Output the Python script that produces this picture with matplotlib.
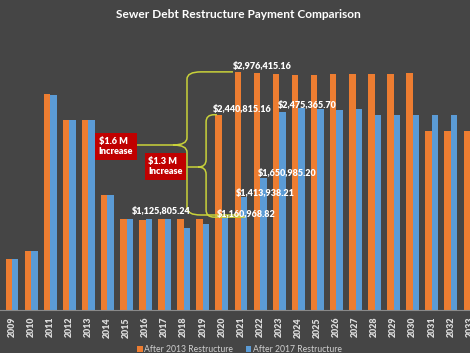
import numpy as np
import matplotlib.pyplot as plt
from matplotlib.path import Path
from matplotlib.patches import PathPatch

plt.rcParams["font.family"] = ["Lato", "DejaVu Sans"]

years = [str(y) for y in range(2009, 2034)]
after_2013 = [637500, 737500, 2700000, 2375000, 2375000, 1440000, 1135000, 1125805.24,
              1135000, 1135000, 1135000, 2440815.16, 2976415.16, 2958000, 2950000, 2940000,
              2940000, 2950000, 2950000, 2950000, 2950000, 2960000, 2240000, 2240000, 2240000]
after_2017 = [637500, 737500, 2690000, 2375000, 2375000, 1440000, 1135000, 1135000,
              1135000, 1025000, 1075000, 1160968.82, 1413938.21, 1650985.20, 2475365.70, 2525000,
              2510000, 2500000, 2510000, 2440000, 2440000, 2440000, 2440000, 2440000, 2440000]
series_names = ["After 2013 Restructure", "After 2017 Restructure"]
callouts = ["$1.6 M\nIncrease", "$1.3 M\nIncrease"]

orange = "#ed7d31"
blue = "#5b9bd5"
yellow = "#c9d23a"
bg = "#454545"

fig = plt.figure(figsize=(4.7, 3.53), dpi=100)
fig.patch.set_facecolor(bg)
ax = fig.add_axes([0, 43 / 353, 1, 250 / 353])
ax.set_facecolor("none")

x = np.arange(len(years))
w = 0.34
b1 = ax.bar(x - w / 2, after_2013, w, color=orange, label=series_names[0], zorder=2)
b2 = ax.bar(x + w / 2, after_2017, w, color=blue, label=series_names[1], zorder=2)

ax.set_xlim(-0.629, 24.0)
ax.set_ylim(0, 3.125e6)
ax.set_yticks([])
ax.set_xticks(x, years, rotation=90, fontsize=6.4, fontweight="heavy", color="#dcdcdc")
ax.tick_params(axis="x", length=0, pad=5)
for s in ["top", "left", "right"]:
    ax.spines[s].set_visible(False)
ax.spines["bottom"].set_color("#8a8a8a")
ax.spines["bottom"].set_linewidth(0.8)

# data labels: (series, year index, dx, dy) in pixels from the bar's top-left
labels = [(0, 12, -2, 5), (0, 11, -3, 5), (1, 14, -1, 6), (1, 13, -2, 4),
          (1, 12, -5, 3), (1, 11, -5, 3), (0, 7, -7, 8)]
for s, i, dx, dy in labels:
    vals = after_2013 if s == 0 else after_2017
    left = i - w if s == 0 else i
    ax.annotate(f"${vals[i]:,.2f}", xy=(left, vals[i]), xytext=(dx, dy),
                textcoords="offset pixels", ha="left", va="center",
                fontsize=6.5, fontweight="heavy", color="white", zorder=6)


def brace(x_tip, x_fork, x_spine, y_mid, y_top, y_bot, x_top_end, x_bot_end):
    rx = x_spine - x_fork
    ry = 0.09e6
    verts = [(x_tip, y_mid), (x_fork, y_mid), (x_spine, y_mid), (x_spine, y_mid + ry),
             (x_spine, y_top - ry), (x_spine, y_top), (x_spine + rx, y_top), (x_top_end, y_top),
             (x_fork, y_mid), (x_spine, y_mid), (x_spine, y_mid - ry),
             (x_spine, y_bot + ry), (x_spine, y_bot), (x_spine + rx, y_bot), (x_bot_end, y_bot)]
    codes = [Path.MOVETO, Path.LINETO, Path.CURVE3, Path.CURVE3,
             Path.LINETO, Path.CURVE3, Path.CURVE3, Path.LINETO,
             Path.MOVETO, Path.CURVE3, Path.CURVE3,
             Path.LINETO, Path.CURVE3, Path.CURVE3, Path.LINETO]
    ax.add_patch(PathPatch(Path(verts, codes), fill=False, edgecolor=yellow,
                           linewidth=1.1, zorder=4))


brace(6.55, 8.44, 9.17, 2.0625e6, after_2013[12], 1.1875e6, 11.58, 11.95)
brace(9.17, 9.75, 10.17, 1.7875e6, after_2013[11], after_2017[11], 10.74, 12.2)

box = dict(boxstyle="square,pad=0.4", facecolor="#c00000", edgecolor="none")
ax.text(4.55, 2.04e6, callouts[0], ha="left", va="center", fontsize=6.6,
        fontweight="heavy", color="white", bbox=box, zorder=5)
ax.text(7.15, 1.79e6, callouts[1], ha="left", va="center", fontsize=6.6,
        fontweight="heavy", color="white", bbox=box, zorder=5)

fig.text(0.507, 1 - 14 / 353, "Sewer Debt Restructure Payment Comparison",
         ha="center", va="center", fontsize=8.6, fontweight="bold", color="white")

fig.legend(handles=[b1, b2], loc="lower center", bbox_to_anchor=(0.51, -0.025),
           ncol=2, frameon=False, fontsize=6.2, labelcolor="#d0d0d0",
           handlelength=0.6, handleheight=0.6, handletextpad=0.2, columnspacing=1.5)

fig.savefig("out.png", dpi=100, facecolor=bg)
